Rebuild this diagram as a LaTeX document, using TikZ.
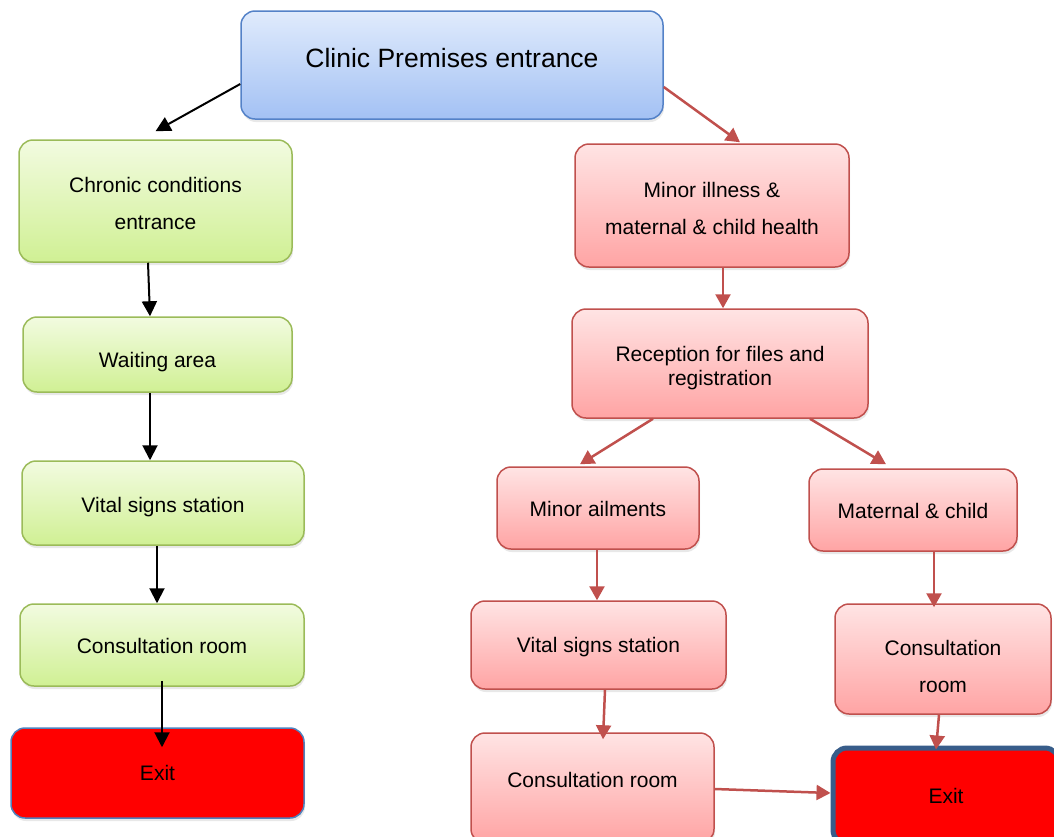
\documentclass[tikz,border=0pt]{standalone}
\usepackage{fontspec}
\setmainfont{Liberation Sans}
\usetikzlibrary{arrows.meta,shadows}
\definecolor{bluetop}{RGB}{224,235,252}
\definecolor{bluebot}{RGB}{163,193,244}
\definecolor{blueedge}{RGB}{84,130,200}
\definecolor{greentop}{RGB}{242,251,224}
\definecolor{greenbot}{RGB}{208,240,148}
\definecolor{greenedge}{RGB}{155,187,89}
\definecolor{redtop}{RGB}{255,228,228}
\definecolor{redbot}{RGB}{255,164,164}
\definecolor{rededge}{RGB}{192,80,77}
\definecolor{exitedge}{RGB}{79,129,189}
\definecolor{exitedgeB}{RGB}{56,93,138}
\tikzset{
  base/.style={rectangle, rounded corners=14pt, inner sep=0pt, align=center,
    font=\fontsize{21pt}{37pt}\selectfont,
    drop shadow={shadow xshift=1pt, shadow yshift=-3pt, opacity=0.18}},
  bluebox/.style={base, top color=bluetop, bottom color=bluebot, draw=blueedge, line width=1.5pt},
  greenbox/.style={base, top color=greentop, bottom color=greenbot, draw=greenedge, line width=1.5pt},
  redbox/.style={base, top color=redtop, bottom color=redbot, draw=rededge, line width=1.5pt},
  exitbox/.style={base, fill=red, draw=exitedge, line width=1.5pt},
  exitboxB/.style={base, fill=red, draw=exitedgeB, line width=5pt},
  blackarrow/.style={draw=black, line width=2pt, -{Triangle[length=15pt,width=15pt]}},
  redarrow/.style={draw=rededge, line width=2.5pt, -{Triangle[length=14pt,width=15pt]}},
}
\begin{document}
\begin{tikzpicture}[x=1pt,y=-1pt]
\useasboundingbox (0,0) rectangle (1054,836);
% left column
\node[bluebox, minimum width=422pt, minimum height=108pt,
  font=\fontsize{26.5pt}{30pt}\selectfont, text height=19pt, text depth=13.5pt] (clinic) at (452,65) {Clinic Premises entrance};
\node[greenbox, minimum width=273pt, minimum height=122pt] (chronic) at (155.5,201) {\rule{0pt}{19.5pt}Chronic conditions\\entrance};
\node[greenbox, minimum width=269pt, minimum height=75pt, text height=31pt, text depth=4.5pt] (waiting) at (157.5,354.5) {Waiting area};
\node[greenbox, minimum width=282pt, minimum height=84pt, text height=23pt, text depth=4.5pt] (vitalL) at (163,503) {Vital signs station};
\node[greenbox, minimum width=284pt, minimum height=82pt, text height=21pt, text depth=4.5pt] (consL) at (162,645) {Consultation room};
\node[exitbox, minimum width=293pt, minimum height=90pt] (exitL) at (157.5,773) {Exit};
% right part
\node[redbox, minimum width=274pt, minimum height=123pt] (minor) at (712,205.5) {\rule{0pt}{21pt}Minor illness \&\\maternal \& child health};
\node[redbox, minimum width=296pt, minimum height=109pt, font=\fontsize{21pt}{24pt}\selectfont] (recep) at (720,363.5) {\rule{0pt}{25pt}Reception for files and\\registration};
\node[redbox, minimum width=202pt, minimum height=82pt, text height=21pt, text depth=4.5pt] (ailments) at (598,508) {Minor ailments};
\node[redbox, minimum width=208pt, minimum height=82pt, text height=21pt, text depth=4.5pt] (maternal) at (913,510) {Maternal \& child};
\node[redbox, minimum width=255pt, minimum height=88pt, text height=19pt, text depth=4.5pt] (vitalR) at (598.5,645) {Vital signs station};
\node[redbox, minimum width=216pt, minimum height=110pt] (consRT) at (943,659) {\rule{0pt}{31pt}Consultation\\room};
\node[redbox, minimum width=243pt, minimum height=110pt, text height=15pt, text depth=17pt] (consB) at (592.5,788) {Consultation room};
\node[exitboxB, minimum width=226pt, minimum height=96pt] (exitR) at (946,796) {Exit};
% black arrows
\draw[blackarrow] ([yshift=-19pt]clinic.west) -- ([yshift=8pt]chronic.north);
\draw[blackarrow] ([xshift=-7.5pt]chronic.south) -- ([xshift=-7.5pt]waiting.north);
\draw[blackarrow] ([xshift=-7.5pt]waiting.south) -- ([xshift=-13pt]vitalL.north);
\draw[blackarrow] ([xshift=-6pt]vitalL.south) -- ([xshift=-5pt]consL.north);
\draw[blackarrow] ([yshift=6pt]consL.south) -- ([xshift=4.5pt,yshift=-20pt]exitL.north);
% red arrows
\draw[redarrow] ([yshift=-22pt]clinic.east) -- ([xshift=28pt,yshift=1pt]minor.north);
\draw[redarrow] ([xshift=11pt]minor.south) -- ([xshift=3pt]recep.north);
\draw[redarrow] ([xshift=-67pt]recep.south) -- ([xshift=-18pt,yshift=2pt]ailments.north);
\draw[redarrow] ([xshift=90pt]recep.south) -- ([xshift=-27pt,yshift=4pt]maternal.north);
\draw[redarrow] ([xshift=-1pt]ailments.south) -- ([xshift=-1.5pt]vitalR.north);
\draw[redarrow] ([xshift=21pt]maternal.south) -- ([xshift=-9pt,yshift=-4pt]consRT.north);
\draw[redarrow] ([xshift=6.5pt]vitalR.south) -- ([xshift=10.5pt,yshift=-7pt]consB.north);
\draw[redarrow] ([xshift=-4pt]consRT.south) -- ([xshift=-10pt,yshift=-4pt]exitR.north);
\draw[redarrow] ([yshift=-1pt]consB.east) -- ([yshift=3pt]exitR.west);
\end{tikzpicture}
\end{document}
